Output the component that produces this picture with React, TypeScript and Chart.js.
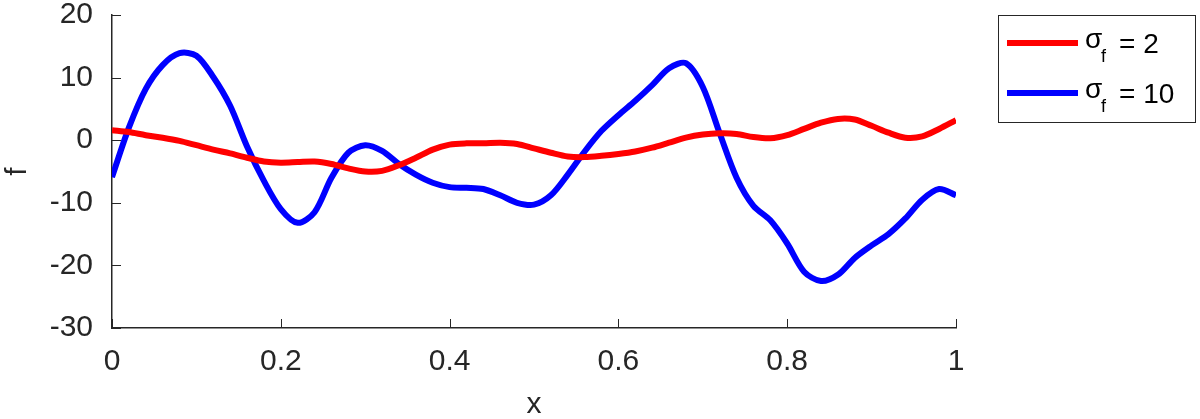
import React, { useEffect, useRef } from "react";
import { Chart, registerables } from "chart.js";

Chart.register(...registerables);

const xValues = [
  0, 0.02, 0.04, 0.06, 0.08, 0.1, 0.12, 0.14, 0.16, 0.18, 0.2, 0.22, 0.24, 0.26, 0.28, 0.3, 0.32, 0.34,
  0.36, 0.38, 0.4, 0.42, 0.44, 0.46, 0.48, 0.5, 0.52, 0.54, 0.56, 0.58, 0.6, 0.62, 0.64, 0.66, 0.68,
  0.7, 0.72, 0.74, 0.76, 0.78, 0.8, 0.82, 0.84, 0.86, 0.88, 0.9, 0.92, 0.94, 0.96, 0.98, 1.0,
];

const sigma2Values = [
  1.6, 1.3, 0.8, 0.4, -0.1, -0.8, -1.5, -2.1, -2.8, -3.4, -3.6, -3.5, -3.4, -3.8, -4.5, -5.0, -4.9, -4.0,
  -2.8, -1.5, -0.7, -0.5, -0.5, -0.4, -0.6, -1.3, -2.0, -2.6, -2.7, -2.5, -2.2, -1.8, -1.2, -0.4, 0.4,
  0.9, 1.1, 1.0, 0.5, 0.3, 0.8, 1.8, 2.8, 3.4, 3.3, 2.3, 1.2, 0.4, 0.6, 1.8, 3.2,
];

const sigma10Values = [
  -5.9, 2.0, 8.2, 12.0, 13.9, 13.5, 10.1, 5.5, -1.0, -6.5, -11.0, -13.2, -11.5, -6.0, -2.0, -0.8, -1.7,
  -3.8, -5.5, -6.8, -7.5, -7.6, -7.8, -8.8, -10.0, -10.3, -8.8, -5.5, -1.8, 1.5, 4.0, 6.3, 8.8, 11.5,
  12.3, 8.5, 1.1, -6.0, -10.5, -12.8, -16.5, -21.0, -22.5, -21.5, -18.8, -16.8, -15.0, -12.5, -9.5, -7.8,
  -8.8,
];

const seriesLabels = ["2", "10"];
const seriesColors = ["#ff0000", "#0000ff"];

const AXIS_COLOR = "#262626";
const FONT = "'Liberation Sans', Arial, Helvetica, sans-serif";

const inwardTicks = {
  id: "inwardTicks",
  afterDraw(chart: any) {
    const { ctx, chartArea } = chart;
    const xs = chart.scales.x;
    const ys = chart.scales.y;
    ctx.save();
    ctx.strokeStyle = AXIS_COLOR;
    ctx.lineWidth = 1;
    xs.ticks.forEach((t: any) => {
      const px = Math.round(xs.getPixelForValue(t.value)) + 0.5;
      ctx.beginPath();
      ctx.moveTo(px, chartArea.bottom);
      ctx.lineTo(px, chartArea.bottom - 9);
      ctx.stroke();
    });
    ys.ticks.forEach((t: any) => {
      const py = Math.round(ys.getPixelForValue(t.value)) + 0.5;
      ctx.beginPath();
      ctx.moveTo(chartArea.left, py);
      ctx.lineTo(chartArea.left + 9, py);
      ctx.stroke();
    });
    ctx.restore();
  },
};

const customLegend = {
  id: "customLegend",
  afterDraw(chart: any) {
    const { ctx } = chart;
    ctx.save();
    ctx.fillStyle = "#ffffff";
    ctx.fillRect(998, 15, 198, 108);
    ctx.strokeStyle = AXIS_COLOR;
    ctx.lineWidth = 1;
    ctx.strokeRect(998.5, 15.5, 197, 107);
    chart.data.datasets.forEach((ds: any, i: number) => {
      const cy = 43 + i * 50;
      ctx.strokeStyle = ds.borderColor;
      ctx.lineWidth = 6;
      ctx.beginPath();
      ctx.moveTo(1007, cy);
      ctx.lineTo(1078, cy);
      ctx.stroke();
      ctx.fillStyle = "#000000";
      ctx.textAlign = "left";
      ctx.textBaseline = "alphabetic";
      ctx.font = `28px ${FONT}`;
      ctx.fillText("σ", 1085, cy + 5);
      ctx.font = `18px ${FONT}`;
      ctx.fillText("f", 1101, cy + 19);
      ctx.font = `28px ${FONT}`;
      ctx.fillText("= " + seriesLabels[i], 1119, cy + 10);
    });
    ctx.restore();
  },
};

export default function App() {
  const canvasRef = useRef<HTMLCanvasElement | null>(null);

  useEffect(() => {
    const canvas = canvasRef.current;
    if (!canvas) return;
    const makePoints = (vals: number[]) => xValues.map((x, i) => ({ x, y: vals[i] }));
    const chart = new Chart(canvas, {
      type: "line",
      data: {
        datasets: [
          {
            label: "sigma_f = 2",
            data: makePoints(sigma2Values),
            borderColor: seriesColors[0],
            borderWidth: 6,
            pointRadius: 0,
            tension: 0.3,
            fill: false,
          },
          {
            label: "sigma_f = 10",
            data: makePoints(sigma10Values),
            borderColor: seriesColors[1],
            borderWidth: 6,
            pointRadius: 0,
            tension: 0.3,
            fill: false,
          },
        ],
      },
      options: {
        responsive: false,
        animation: false,
        devicePixelRatio: 1,
        layout: { padding: { top: 15, right: 244, left: 0, bottom: 0 } },
        plugins: {
          legend: { display: false },
          tooltip: { enabled: false },
        },
        scales: {
          x: {
            type: "linear",
            min: 0,
            max: 1,
            afterFit: (s: any) => {
              s.height = 91;
              s.paddingLeft = 0;
              s.paddingRight = 0;
            },
            grid: { display: false, drawTicks: false },
            border: { display: true, color: AXIS_COLOR, width: 1.5 },
            ticks: {
              stepSize: 0.2,
              padding: 16,
              color: AXIS_COLOR,
              font: { family: FONT, size: 30 },
              maxRotation: 0,
              callback: (v: any) => String(Math.round(Number(v) * 10) / 10),
            },
            title: {
              display: true,
              text: "x",
              color: AXIS_COLOR,
              font: { family: FONT, size: 30, lineHeight: 0.8 },
              padding: { top: 0, bottom: 2 },
            },
          },
          y: {
            type: "linear",
            min: -30,
            max: 20,
            afterFit: (s: any) => {
              s.width = 112;
              s.paddingTop = 0;
              s.paddingBottom = 0;
            },
            grid: { display: false, drawTicks: false },
            border: { display: true, color: AXIS_COLOR, width: 1.5 },
            ticks: {
              stepSize: 10,
              padding: 19,
              color: AXIS_COLOR,
              font: { family: FONT, size: 30 },
            },
            title: {
              display: true,
              text: "f",
              color: AXIS_COLOR,
              font: { family: FONT, size: 30 },
              padding: { top: 0, bottom: 0 },
            },
          },
        },
      },
      plugins: [inwardTicks, customLegend],
    });
    return () => chart.destroy();
  }, []);

  return (
    <div style={{ position: "absolute", left: 0, top: 0, width: 1200, height: 419, background: "#fff" }}>
      <canvas ref={canvasRef} width={1200} height={419} />
    </div>
  );
}
